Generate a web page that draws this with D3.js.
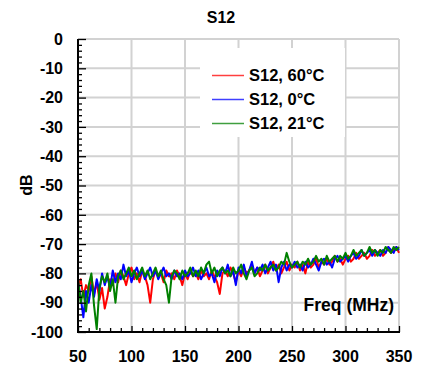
<!DOCTYPE html>
<html><head><meta charset="utf-8">
<script src="https://cdn.jsdelivr.net/npm/d3@7"></script>
<style>body{margin:0;background:#fff;}svg{display:block;font-family:"Liberation Sans",Arial,sans-serif;}</style>
</head><body><svg id="c" width="427" height="367"></svg>
<script>
const freqs = [50,52.5,55,57.5,60,62.5,65,67.5,70,72.5,75,77.5,80,82.5,85,87.5,90,92.5,95,97.5,
100,102.5,105,107.5,110,112.5,115,117.5,120,122.5,125,127.5,130,132.5,135,137.5,140,142.5,145,147.5,
150,152.5,155,157.5,160,162.5,165,167.5,170,172.5,175,177.5,180,182.5,185,187.5,190,192.5,195,197.5,
200,202.5,205,207.5,210,212.5,215,217.5,220,222.5,225,227.5,230,232.5,235,237.5,240,242.5,245,247.5,
250,252.5,255,257.5,260,262.5,265,267.5,270,272.5,275,277.5,280,282.5,285,287.5,290,292.5,295,297.5,
300,302.5,305,307.5,310,312.5,315,317.5,320,322.5,325,327.5,330,332.5,335,337.5,340,342.5,345,347.5,350];
const s60 = [-85,-82,-88,-84,-86,-81,-87,-83,-89,-85,-92,-88,-82,-84,-80,-83,-79,-81,-84,-80,
-78,-82,-80,-83,-79,-81,-84,-90,-82,-79,-81,-80,-83,-79,-81,-80,-82,-79,-81,-84,
-80,-82,-79,-81,-80,-82,-79,-81,-80,-82,-79,-81,-83,-87,-80,-79,-81,-78,-80,-83,
-79,-81,-78,-80,-79,-77,-80,-78,-81,-79,-77,-80,-78,-76,-79,-77,-80,-78,-76,-79,
-77,-78,-76,-79,-77,-80,-76,-78,-77,-75,-78,-76,-77,-75,-77,-76,-74,-76,-75,-77,
-75,-74,-76,-75,-73,-75,-74,-73,-75,-74,-72,-74,-73,-72,-74,-73,-71,-73,-72,-71,-73];
const s0 = [-83,-88,-95,-86,-90,-84,-88,-82,-86,-80,-84,-81,-85,-79,-83,-80,-82,-77,-81,-79,
-83,-80,-78,-81,-79,-82,-80,-78,-81,-79,-82,-80,-78,-81,-80,-82,-79,-81,-80,-82,
-79,-81,-80,-78,-81,-79,-82,-80,-78,-81,-80,-83,-79,-81,-78,-80,-77,-81,-79,-84,
-78,-80,-77,-81,-79,-76,-80,-78,-79,-77,-80,-78,-76,-79,-77,-83,-78,-76,-79,-77,
-78,-76,-78,-77,-79,-76,-78,-77,-75,-77,-79,-76,-75,-77,-76,-78,-75,-74,-76,-75,
-74,-76,-74,-73,-75,-74,-72,-74,-73,-72,-74,-72,-73,-74,-72,-73,-71,-72,-73,-71,-72];
const s21 = [-82,-90,-86,-93,-84,-80,-91,-99,-85,-81,-83,-80,-86,-82,-90,-81,-79,-82,-80,-78,
-81,-79,-82,-80,-78,-81,-79,-82,-80,-78,-81,-79,-82,-84,-90,-81,-79,-80,-82,-79,
-81,-80,-78,-81,-79,-81,-78,-80,-77,-76,-80,-78,-81,-79,-78,-80,-79,-81,-78,-80,
-79,-77,-80,-82,-79,-78,-81,-80,-78,-79,-77,-79,-78,-77,-79,-78,-76,-77,-73,-76,
-78,-77,-76,-78,-76,-77,-75,-77,-76,-74,-76,-75,-77,-74,-76,-75,-74,-76,-74,-75,
-73,-75,-74,-72,-74,-73,-72,-74,-73,-71,-73,-72,-74,-72,-73,-71,-72,-73,-71,-72,-71];
const seriesNames = ["S12, 60°C","S12, 0°C","S12, 21°C"];
const seriesColors = ["#ff0000","#0000ff","#008000"];
const xTicks = [50,100,150,200,250,300,350];
const yTicks = [0,-10,-20,-30,-40,-50,-60,-70,-80,-90,-100];

const svg = d3.select("#c");
const L=78,R=399,T=39,B=332;
const x = d3.scaleLinear().domain([50,350]).range([L,R]);
const y = d3.scaleLinear().domain([-100,0]).range([B,T]);
const grid="#d2d2d2";

svg.append("g").selectAll("line").data(xTicks.slice(1)).join("line")
  .attr("x1",d=>x(d)).attr("x2",d=>x(d)).attr("y1",T).attr("y2",B)
  .attr("stroke",grid).attr("stroke-width",2);
svg.append("g").selectAll("line").data(yTicks.slice(0,-1)).join("line")
  .attr("x1",L).attr("x2",R).attr("y1",d=>y(d)).attr("y2",d=>y(d))
  .attr("stroke",grid).attr("stroke-width",2);

svg.append("rect").attr("x",200).attr("y",48).attr("width",145).attr("height",89).attr("fill","#fff");

const all=[s60,s0,s21];
const line=d3.line().x((d,i)=>x(freqs[i])).y(d=>y(d));
all.forEach((s,k)=>{
  svg.append("path").datum(s).attr("d",line).attr("fill","none")
    .attr("stroke",seriesColors[k]).attr("stroke-width",2).attr("stroke-linejoin","round");
});

const xa = svg.append("g").attr("transform",`translate(0,${B})`)
  .call(d3.axisTop(x).tickValues(d3.range(50,351,10)).tickSize(4).tickFormat(""));
xa.selectAll(".tick line").filter(d=>d%50===0).attr("y2",-6);
xa.select(".domain").remove();
xa.selectAll("line").attr("stroke","#000").attr("stroke-width",1.3);
svg.append("line").attr("x1",L).attr("x2",R+1).attr("y1",B).attr("y2",B).attr("stroke","#000").attr("stroke-width",2);

const ya = svg.append("g").attr("transform",`translate(${L},0)`)
  .call(d3.axisRight(y).tickValues(d3.range(-100,1,2)).tickSize(4).tickFormat(""));
ya.selectAll(".tick line").filter(d=>d%10===0).attr("x2",8);
ya.select(".domain").remove();
ya.selectAll("line").attr("stroke","#000").attr("stroke-width",1.3);
svg.append("line").attr("x1",L).attr("x2",L).attr("y1",T).attr("y2",B+1).attr("stroke","#000").attr("stroke-width",2);

svg.append("g").selectAll("text").data(yTicks).join("text")
  .attr("x",63).attr("y",d=>y(d)).attr("dy","0.36em").attr("text-anchor","end")
  .attr("font-size",16).attr("font-weight","bold").text(d=>d);
svg.append("g").selectAll("text").data(xTicks).join("text")
  .attr("x",d=>x(d)).attr("y",362).attr("text-anchor","middle")
  .attr("font-size",16).attr("font-weight","bold").text(d=>d);

svg.append("text").attr("x",221).attr("y",23).attr("text-anchor","middle")
  .attr("font-size",16).attr("font-weight","bold").text("S12");
svg.append("text").attr("transform","translate(32,185) rotate(-90)").attr("text-anchor","middle")
  .attr("font-size",16).attr("font-weight","bold").text("dB");
svg.append("text").attr("x",394).attr("y",311).attr("text-anchor","end")
  .attr("font-size",17.5).attr("font-weight","bold").text("Freq (MHz)");

const lg = svg.append("g");
seriesNames.forEach((n,k)=>{
  const yy = 75.5 + k*24;
  lg.append("line").attr("x1",212).attr("x2",244).attr("y1",yy).attr("y2",yy)
    .attr("stroke",seriesColors[k]).attr("stroke-width",1.5).attr("opacity",0.75);
  lg.append("text").attr("x",249).attr("y",yy).attr("dy","0.36em")
    .attr("font-size",16.5).attr("font-weight","bold").text(n);
});
</script></body></html>
